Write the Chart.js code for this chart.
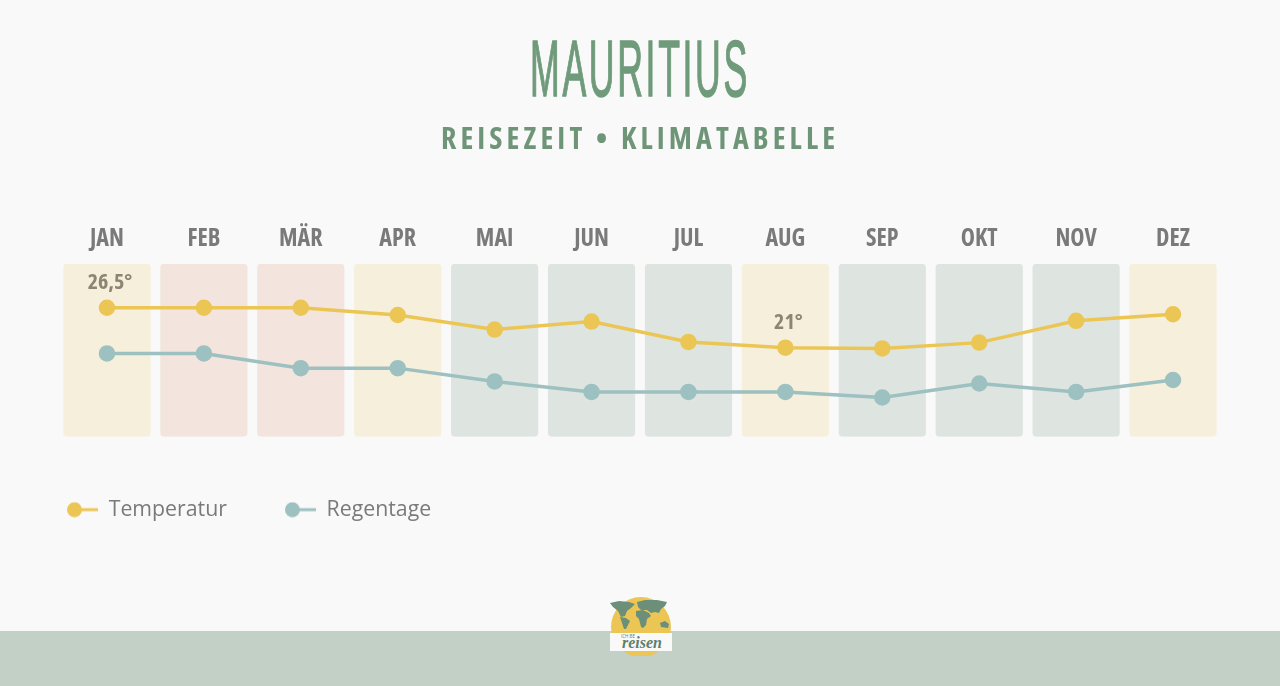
<!DOCTYPE html>
<html lang="de"><head><meta charset="utf-8"><title>Mauritius Klimatabelle</title>
<script src="https://cdn.jsdelivr.net/npm/chart.js@4"></script>
<style>
html,body{margin:0;padding:0;width:1280px;height:686px;overflow:hidden;background:#f9f9f9}
#wrap{position:relative;width:1280px;height:686px}
#chart{position:absolute;left:0;top:0;z-index:2}
#h1{position:absolute;left:0;width:1280px;top:24px;text-align:center;margin:0;font:400 80px/90px "Liberation Sans Narrow","Liberation Sans",sans-serif;letter-spacing:6px;color:#6f9b7b;-webkit-text-stroke:1.5px #6f9b7b;transform:scaleX(.445);transform-origin:640px 0;z-index:3}
#h2{position:absolute;left:0;width:1280px;top:116px;text-align:center;margin:0;font:700 30px/44px "Open Sans",sans-serif;font-stretch:75%;letter-spacing:4.1px;color:#6f9579;z-index:3}
#foot{position:absolute;left:0;top:631px;width:1280px;height:55px;background:#c3d0c5;z-index:1}
#logo{position:absolute;left:605px;top:592px;z-index:4}
</style></head><body><div id="wrap">
<div id="foot"></div>
<h1 id="h1">MAURITIUS</h1>
<h2 id="h2">REISEZEIT • KLIMATABELLE</h2>
<canvas id="chart" width="1280" height="686"></canvas>
<svg id="logo" width="72" height="64" viewBox="0 0 72 64">
<circle cx="36" cy="35" r="30" fill="#ecc655"/>
<g fill="#6b8f78">
<path d="M5 11 L14 9 L24 10 L30 12 L26 16 L22 19 L20 24 L16 25 L13 19 L8 15Z"/>
<path d="M15 25 L21 26 L25 29 L21 37 L19 37 L17 31Z"/>
<path d="M32 10 L40 8 L52 8 L62 10 L60 14 L56 17 L54 21 L50 20 L46 21 L42 18 L36 18 L33 15Z"/>
<path d="M31 19 L38 18 L44 21 L46 24 L42 27 L41 33 L38 36 L36 35 L34 27 L31 24Z"/>
<path d="M55 31 L60 29 L64 32 L63 36 L56 35Z"/>
</g>
<rect x="5" y="41" width="62" height="18" fill="#f9f9f9"/>
<text x="37" y="56" text-anchor="middle" font-family="Liberation Serif" font-style="italic" font-weight="700" font-size="16" fill="#5f7f6b">reisen</text>
<text x="23" y="46" text-anchor="middle" font-family="Open Sans" font-size="4.5" fill="#5f7f6b">ICH BE</text>
</svg>
</div>
<script>
const categories = ["JAN","FEB","MÄR","APR","MAI","JUN","JUL","AUG","SEP","OKT","NOV","DEZ"];
const temperatur = [26.5,26.5,26.5,25.5,23.5,24.6,21.8,21,20.9,21.7,24.7,25.6];
const regentage = [11.9,11.9,9.8,9.8,7.9,6.4,6.4,6.4,5.6,7.6,6.4,8.1];
const bands = [1,1,1,1,1,1,1,1,1,1,1,1];
const seasons = ["mittel","heiss","heiss","mittel","kuehl","kuehl","kuehl","mittel","kuehl","kuehl","kuehl","mittel"];
const seasonColors = {mittel:"#f6efdb",heiss:"#f3e5de",kuehl:"#dee5e0"};
const valueLabels = {0:"26,5°",7:"21°"};

const TEXT='"Open Sans",sans-serif';
function marker(color){
  const c=document.createElement('canvas');c.width=31;c.height=16;
  const x=c.getContext('2d');
  x.strokeStyle=color;x.lineWidth=3;x.beginPath();x.moveTo(8,8);x.lineTo(31,8);x.stroke();
  x.fillStyle=color;x.beginPath();x.arc(7.5,8,7.5,0,Math.PI*2);x.fill();
  return c;
}
const labelPlugin={id:'valueLabels',afterDatasetsDraw(chart){
  const pts=chart.getDatasetMeta(0).data,ctx=chart.ctx;
  ctx.save();ctx.font='condensed bold 22px "Open Sans"';ctx.fillStyle='#8c8570';ctx.textAlign='center';ctx.textBaseline='middle';
  Object.keys(valueLabels).forEach(i=>{const p=pts[i];ctx.fillText(valueLabels[i],p.x+3,p.y-25);});
  ctx.restore();
}};
const legendPlugin={id:'legendPlace',afterLayout(chart){chart.legend.left=9;chart.legend.top=441;}};

new Chart(document.getElementById('chart'),{
  data:{labels:categories,datasets:[
    {type:'line',label:'Temperatur',data:temperatur,yAxisID:'yT',borderColor:'#ecc655',backgroundColor:'#ecc655',borderWidth:3.5,pointRadius:6.5,pointHoverRadius:6.5,tension:0,order:1},
    {type:'line',label:'Regentage',data:regentage,yAxisID:'yR',borderColor:'#9dc0c0',backgroundColor:'#9dc0c0',borderWidth:3.5,pointRadius:6.5,pointHoverRadius:6.5,tension:0,order:1},
    {type:'bar',label:'Klima',data:bands,yAxisID:'yB',backgroundColor:seasons.map(s=>seasonColors[s]),barPercentage:.9,categoryPercentage:1,borderRadius:4,borderSkipped:false,order:2}
  ]},
  options:{responsive:false,animation:false,
    layout:{padding:{left:58.5,right:58.5,top:215,bottom:160}},
    plugins:{title:{display:false},tooltip:{enabled:false},
      legend:{position:'bottom',align:'start',labels:{
        padding:58,usePointStyle:true,pointStyleWidth:31,color:'#7a7a7a',font:{family:TEXT,size:21.3},
        generateLabels(chart){return chart.data.datasets.slice(0,2).map((d,i)=>({text:d.label,pointStyle:marker(d.borderColor),fontColor:'#7a7a7a',datasetIndex:i,lineWidth:0,strokeStyle:'transparent',fillStyle:d.borderColor}));}
      }}},
    scales:{
      x:{position:'top',offset:true,grid:{display:false,drawTicks:false},border:{display:false},
        ticks:{color:'#7a7a7a',padding:10,maxRotation:0,autoSkip:false,font:{family:'"Open Sans"',weight:'condensed bold',size:24}}},
      yT:{display:false,min:8.75,max:32.55},
      yR:{display:false,min:0,max:24.71},
      yB:{display:false,min:0,max:1}
    }
  },
  plugins:[labelPlugin,legendPlugin]
});
</script></body></html>
